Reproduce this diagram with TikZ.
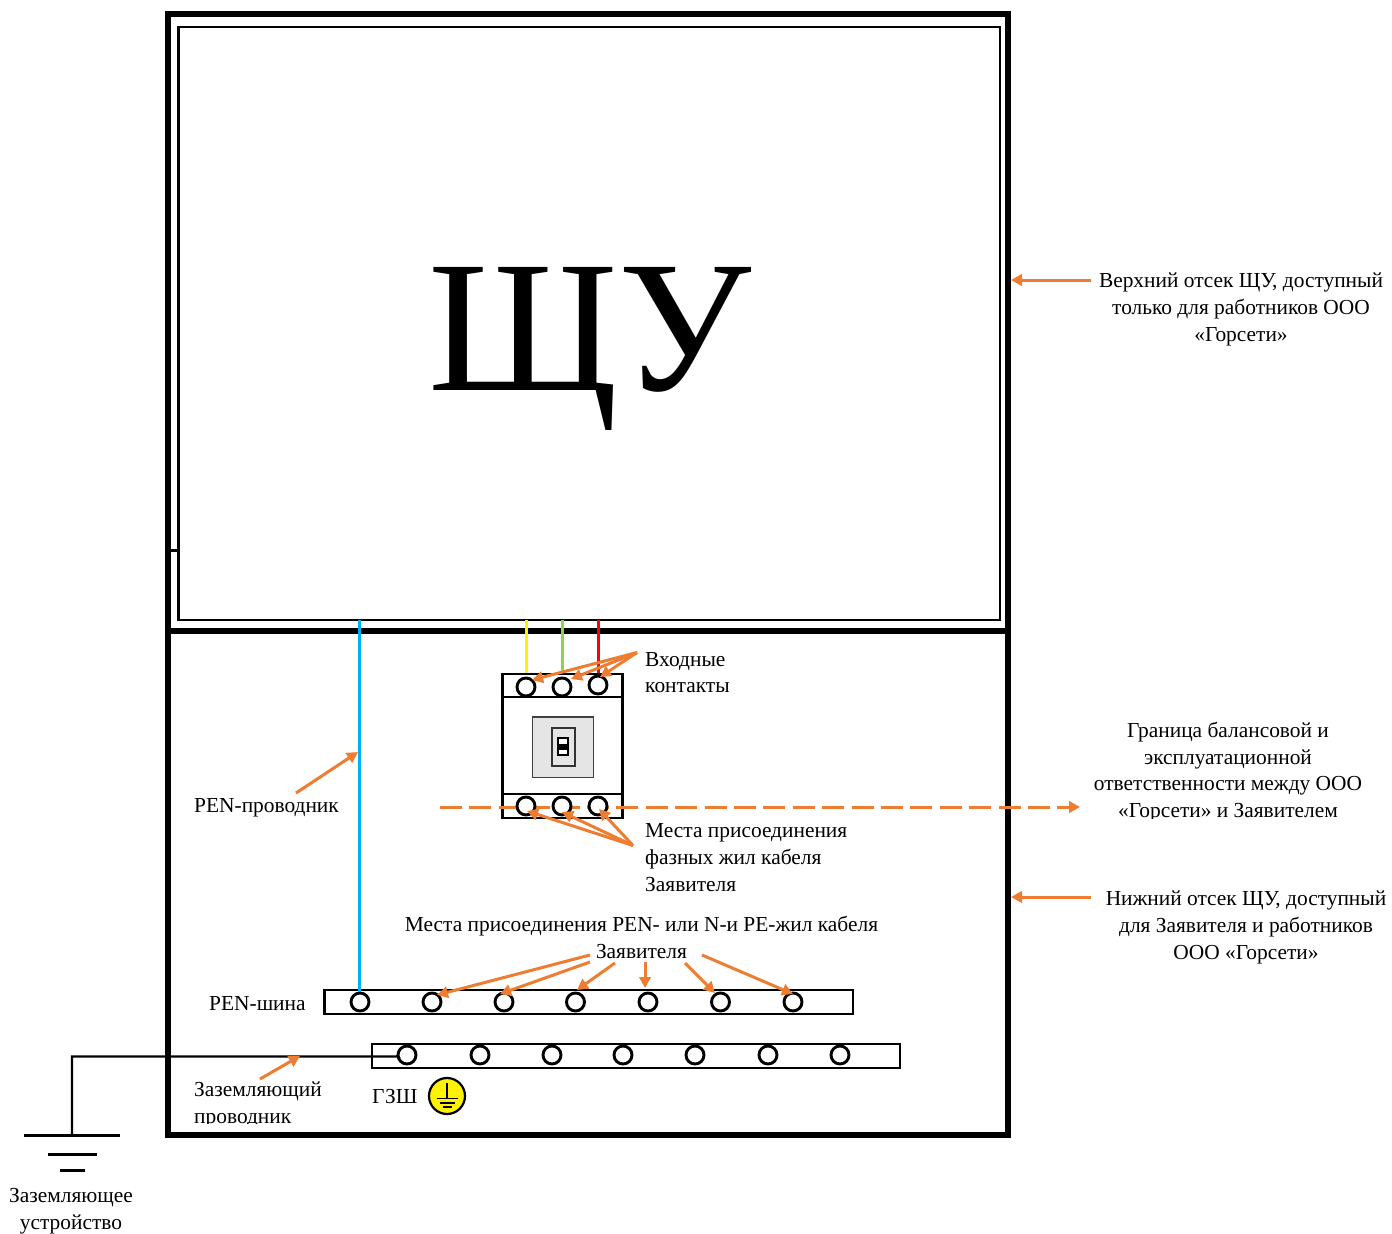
\documentclass[tikz,border=0pt]{standalone}
\usepackage{fontspec}
\setmainfont{Liberation Serif}
\usetikzlibrary{arrows.meta}
\definecolor{org}{HTML}{ED7D31}
\tikzset{
 x=1pt,y=-1pt,
 frame/.style={draw=black,line width=5.4pt},
 thinframe/.style={draw=black,line width=2.2pt},
 contact/.style={circle,draw=black,fill=white,line width=2.9pt,minimum size=18pt,inner sep=0pt},
 busbar/.style={draw=black,fill=white,line width=2.7pt},
 wire/.style={line width=3pt},
 callout/.style={draw=org,line width=3pt,-{Triangle[length=11pt,width=11.5pt]}},
 lab/.style={inner sep=0pt,align=center,font=\fontsize{21.4}{26.7}\selectfont},
 labl/.style={inner sep=0pt,align=left,anchor=west,font=\fontsize{21.4}{26.7}\selectfont},
 gnd/.style={draw=black,line width=3pt},
}
\begin{document}
\begin{tikzpicture}
\useasboundingbox (0,0) rectangle (1392,1234);
% enclosure
\coordinate (fTL) at (168,14); \coordinate (fBR) at (1008,1135);
\coordinate (dL) at (168,631); \coordinate (dR) at (1008,631);
\coordinate (iTL) at (178.5,27); \coordinate (iBR) at (1000,620);
\coordinate (tickL) at (165,550.5); \coordinate (tickR) at (178.5,550.5);
\draw[frame] (fTL) rectangle (fBR);
\draw[frame] (dL) -- (dR);
\draw[thinframe] (iTL) rectangle (iBR);
\draw[thinframe] (tickL) -- (tickR);
\node[inner sep=0pt,font=\fontsize{188}{188}\selectfont] (shu) at (590,348.5) {ЩУ};
% wires
\coordinate (wB) at (359,620); \coordinate (wY) at (526,620); \coordinate (wG) at (562,620); \coordinate (wR) at (598,620);
% breaker
\coordinate (brTL) at (502.5,674); \coordinate (brBR) at (622.5,818);
\draw[wire,draw=yellow] (wY) -- (526,680);
\draw[wire,draw={rgb,255:red,146;green,208;blue,80}] (wG) -- (562,680);
\draw[wire,draw=red] (wR) -- (598,680);
\draw[busbar] (brTL) rectangle (brBR);
\draw[busbar] (502.5,697) -- (622.5,697);
\draw[busbar] (502.5,794) -- (622.5,794);
\draw[draw=black!75,fill=black!10,line width=1.3pt] (532.5,717) rectangle (593.5,777.5);
\draw[draw=black!80,fill=black!10,line width=1.3pt] (552,728) rectangle (575,766);
\draw[draw=black,fill=white,line width=1.3pt] (558,738) rectangle (568,755);
\fill[black] (558,743.5) rectangle (568,750);
% boundary line runs behind the lower contacts
\coordinate (c3s) at (440,807); \coordinate (c3e) at (1080,807);
\draw[callout,dash pattern=on 22pt off 7.4pt] (c3s) -- (c3e);
\node[contact] (t1) at (526,687) {};
\node[contact] (t2) at (562,687) {};
\node[contact] (t3) at (598,685) {};
\node[contact] (b1) at (526,806) {};
\node[contact] (b2) at (562,806) {};
\node[contact] (b3) at (598,806) {};
% buses
\draw[busbar] (324.5,990) rectangle (853,1014);
\draw[busbar] (372,1044) rectangle (900,1068);
\coordinate (gA) at (72,1056.5); \coordinate (gT) at (72,1135);
\node[contact] (p1) at (360,1002) {};
\draw[wire,draw={rgb,255:red,0;green,176;blue,240}] (wB) -- (p1.north -| wB);
\node[contact] (p2) at (432,1002) {};
\node[contact] (p3) at (504,1002) {};
\node[contact] (p4) at (575.5,1002) {};
\node[contact] (p5) at (648,1002) {};
\node[contact] (p6) at (720.5,1002) {};
\node[contact] (p7) at (793,1002) {};
\node[contact] (g1) at (407,1055) {};
\node[contact] (g2) at (480,1055) {};
\node[contact] (g3) at (552,1055) {};
\node[contact] (g4) at (623,1055) {};
\node[contact] (g5) at (695,1055) {};
\node[contact] (g6) at (768,1055) {};
\node[contact] (g7) at (840,1055) {};
% earth conductor
\draw[black,line width=2.4pt,line join=miter] (g1.west) -- (398,1056.5) -- (gA) -- (gT);
\coordinate (e1a) at (24,1135.5); \coordinate (e1b) at (120,1135.5);
\coordinate (e2a) at (48,1154.5); \coordinate (e2b) at (97,1154.5);
\coordinate (e3a) at (60,1170.5); \coordinate (e3b) at (84.5,1170.5);
\draw[gnd] (e1a) -- (e1b);
\draw[gnd] (e2a) -- (e2b);
\draw[gnd] (e3a) -- (e3b);
% earth mark
\node[circle,draw=black,fill=yellow,line width=2.2pt,minimum size=36pt,inner sep=0pt] (pe) at (447,1096) {};
\draw[black,line width=1.5pt] (447,1083) -- (447,1098);
\draw[black,line width=1.7pt] (436.5,1098.5) -- (457.5,1098.5);
\draw[black,line width=1.7pt] (439.5,1103) -- (454.5,1103);
\draw[black,line width=1.7pt] (442.5,1107) -- (451.5,1107);
% labels
\node[lab] (lUp) at (1241,309.5) {Верхний отсек ЩУ, доступный\\только для работников ООО\\«Горсети»};
\node[lab] (lLow) at (1246,927.5) {Нижний отсек ЩУ, доступный\\для Заявителя и работников\\ООО «Горсети»};
\begin{scope}
\clip (1080,715) rectangle (1392,818);
\node[lab] (lBound) at (1228,772) {Граница балансовой и\\эксплуатационной\\ответственности между ООО\\«Горсети» и Заявителем};
\end{scope}
\node[labl] (lIn) at (645,672.5) {Входные\\контакты};
\node[labl] (lPh) at (645,857.5) {Места присоединения\\фазных жил кабеля\\Заявителя};
\node[lab] (lPen) at (641.5,937.5) {Места присоединения PEN- или N-и PE-жил кабеля\\Заявителя};
\node[labl] (lBus) at (209,1004) {PEN-шина};
\node[labl] (lCond) at (194,807.5) {PEN-проводник};
\begin{scope}
\clip (185,1075) rectangle (340,1123.5);
\node[labl] (lEarth) at (194,1105) {Заземляющий\\проводник};
\end{scope}
\node[labl] (lGzsh) at (372,1097) {ГЗШ};
\node[lab] (lDev) at (71,1211) {Заземляющее\\устройство};
% callouts
\coordinate (c1s) at (1091,280); \coordinate (c1e) at (1011,280);
\coordinate (c2s) at (1091,897); \coordinate (c2e) at (1011,897);
\coordinate (c4s) at (296,793); \coordinate (c4e) at (358,752);
\coordinate (c5s) at (260,1079); \coordinate (c5e) at (300,1056);
\draw[callout] (c1s) -- (c1e);
\draw[callout] (c2s) -- (c2e);
\draw[callout] (c4s) -- (c4e);
\draw[callout] (c5s) -- (c5e);
\coordinate (in) at (637,652.5);
\draw[callout] (in) -- (532,680);
\draw[callout] (in) -- (571,679);
\draw[callout] (in) -- (600,677);
\coordinate (ph) at (633,845.5);
\draw[callout] (ph) -- (527,811);
\draw[callout] (ph) -- (562,812);
\draw[callout] (ph) -- (599,809);
\draw[callout] (590,955) -- (437,995);
\draw[callout] (590,962) -- (500,994);
\draw[callout] (615,963) -- (577,990);
\draw[callout] (645,962) -- (645,988);
\draw[callout] (685,963) -- (715,993);
\draw[callout] (702,955) -- (793,994);
\end{tikzpicture}
\end{document}
